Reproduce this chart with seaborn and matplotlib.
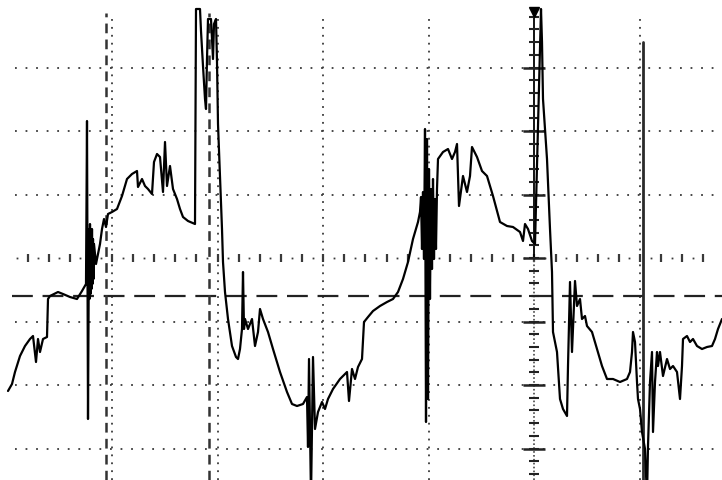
import numpy as np
import pandas as pd
import matplotlib
matplotlib.use("Agg")
import matplotlib.pyplot as plt
import seaborn as sns

# ---- waveform samples (time in screen samples, level in counts) ----
time_s = [8, 12, 15, 20, 25, 30, 33, 36, 38, 40, 43, 47, 48, 50, 58, 63, 70, 77, 82, 86,
          87, 88, 89, 89.5, 90, 90.5, 91, 91.5, 92, 92.5, 93, 93.5, 94, 95, 96, 98, 100, 102, 104, 106,
          108, 112, 117, 122, 127, 132, 137, 138, 142,
          145, 148, 152, 154, 157, 160, 163, 165, 167, 170, 173, 177, 180, 183, 188, 195, 196, 200, 201, 203,
          205, 206, 207, 208, 211, 213, 214, 216, 217, 218, 220, 222, 223, 225, 228, 232, 236, 238, 240, 242,
          243, 244, 245, 248, 252, 255, 258, 260, 263, 268, 273, 280, 287, 292, 297, 303, 307, 308, 309, 311,
          313, 315, 318, 322, 325, 328, 333, 340, 347, 349, 352, 355, 358, 362, 364, 368, 373, 380, 387, 393,
          398, 403, 408, 413, 418, 420, 421, 422, 423, 424, 425, 426, 427, 428, 429, 430, 431, 432, 433, 434,
          435, 436, 437, 438,
          443, 448, 452, 455, 457, 459, 463, 467, 470, 472, 477, 482, 487, 493, 500, 507, 513, 520, 523,
          525, 528, 532, 535, 541, 542, 543, 547, 550, 552, 553, 557, 560, 563, 567, 568, 570, 572, 575, 577,
          580, 582, 585, 587, 592, 597, 602, 607, 613, 620, 627, 630, 632, 633, 635, 637, 638, 640, 642, 645,
          647, 648, 650, 652, 653, 655, 657, 658, 660, 663, 667, 670, 673, 677, 680, 682, 683, 687, 690, 693,
          697, 702, 707, 712, 715, 718, 722]
level = [-133, -126, -114, -98, -88, -81, -78, -104, -81, -94, -81, -79, -41, -38, -34, -36, -39, -41, -33, -26,
         137, -161, 29, -41, 34, -36, 24, -31, 29, -26, 19, -21, 14, 4, -6, 4, 14, 29, 39, 31,
         44, 46, 49, 62, 79, 84, 87, 71, 79,
         72, 69, 64, 96, 104, 101, 66, 116, 72, 92, 69, 59, 49, 41, 37, 34, 249, 249, 227, 192,
         159, 149, 199, 239, 239, 199, 234, 239, 196, 134, 82, 29, -4, -34, -61, -88, -99, -101, -91, -71,
         -14, -71, -61, -71, -61, -88, -74, -51, -61, -74, -91, -114, -134, -146, -148, -146, -139, -189, -101, -240,
         -99, -171, -154, -144, -151, -141, -131, -121, -114, -143, -111, -121, -109, -101, -64, -59, -53, -48, -44, -41,
         -34, -21, -4, 19, 36, 46, 61, 9, 66, -1, 129, -164, 119, -141, 89, -41, 69, -11, 79, -1,
         59, 9, 69, 99,
         106, 109, 99, 106, 114, 52, 82, 66, 82, 111, 101, 87, 82, 62, 36, 32, 31, 26, 17,
         34, 29, 17, 14, 249, 216, 159, 99, 29, -14, -74, -94, -141, -151, -158, -108, -24, -94, -23, -48,
         -41, -61, -58, -68, -74, -91, -108, -121, -121, -124, -121, -114, -94, -74, -84, -124, -141, -151, -174, -191,
         -240, -188, -124, -94, -174, -124, -94, -108, -94, -118, -101, -111, -108, -114, -141, -108, -81, -78, -84, -81,
         -88, -91, -89, -88, -81, -71, -61]

# ---- screen graticule settings ----
DIV_X = 105.6      # samples per horizontal division
X0 = 6.4           # left edge of graticule
DIV_Y = 63.5       # counts per vertical division
TRIGGER_LEVEL = -38
CURSORS = [106, 209]
MARKER_X = 643
X_MIN, X_MAX = 0, 722
Y_MIN, Y_MAX = -222, 259

sns.set_style("white")
plt.rcParams["lines.scale_dashes"] = False

fig = plt.figure(figsize=(7.22, 4.81), dpi=100)
ax = fig.add_axes([0, 0, 1, 1])

grid_col = "#3a3a3a"
center_x = X0 + 5 * DIV_X

# vertical dotted grid lines
for k in [1, 2, 3, 4, 6]:
    x = X0 + k * DIV_X
    ax.plot([x, x], [Y_MIN, 244], color=grid_col, lw=1.3, ls=(0, (1.3, 4.4)), zorder=1)

# horizontal dotted grid lines
for k in [-3, -2, -1, 1, 2, 3]:
    y = k * DIV_Y
    ax.plot([15, X_MAX], [y, y], color=grid_col, lw=1.3, ls=(0, (1.3, 6.3)), zorder=1)

# centre horizontal line: small ticks and dots
tick_x = X0 + np.arange(1, 34) * DIV_X / 5
ax.plot(tick_x, np.zeros_like(tick_x), ls="none", marker="|", ms=6, mew=1.6, color=grid_col, zorder=1)
ax.plot(tick_x - DIV_X / 10, np.zeros_like(tick_x), ls="none", marker="s", ms=1.3, mew=0, color=grid_col, zorder=1)

# centre vertical axis with ticks
ax.plot([center_x, center_x], [0, 249], color="black", lw=1.3, zorder=2)
ax.plot([center_x, center_x], [Y_MIN, 0], color="#555555", lw=1.3, ls=(0, (1.2, 1.6)), zorder=2)
minor_y = np.arange(-17, 20) * DIV_Y / 5
ax.plot(np.full_like(minor_y, center_x), minor_y, ls="none", marker="_", ms=7.5, mew=1.5, color="#222222", zorder=2)
major_y = np.arange(-3, 4) * DIV_Y
ax.plot(np.full_like(major_y, center_x), major_y, ls="none", marker="_", ms=16, mew=1.8, color="#222222", zorder=2)
ax.plot([center_x], [246], ls="none", marker="v", ms=7, color="black", zorder=3)

# trigger level (dashed horizontal)
ax.plot([12, X_MAX], [TRIGGER_LEVEL, TRIGGER_LEVEL], color="#222222", lw=1.6, ls=(0, (15, 7)), zorder=2)

# time cursors (dashed vertical)
for cx in CURSORS:
    ax.plot([cx, cx], [Y_MIN, 245], color="#333333", lw=1.8, ls=(0, (7, 4.5)), zorder=2)

# marker line
ax.plot([MARKER_X, MARKER_X], [Y_MIN, 216], color="#2a2a2a", lw=2.0, zorder=2)

# waveform trace
df = pd.DataFrame({"t": time_s, "v": level})
sns.lineplot(data=df, x="t", y="v", sort=False, estimator=None, color="black", lw=1.6, ax=ax, zorder=4)

ax.set_xlim(X_MIN, X_MAX)
ax.set_ylim(Y_MIN, Y_MAX)
ax.axis("off")

fig.savefig("out.png", dpi=100, facecolor="white")
